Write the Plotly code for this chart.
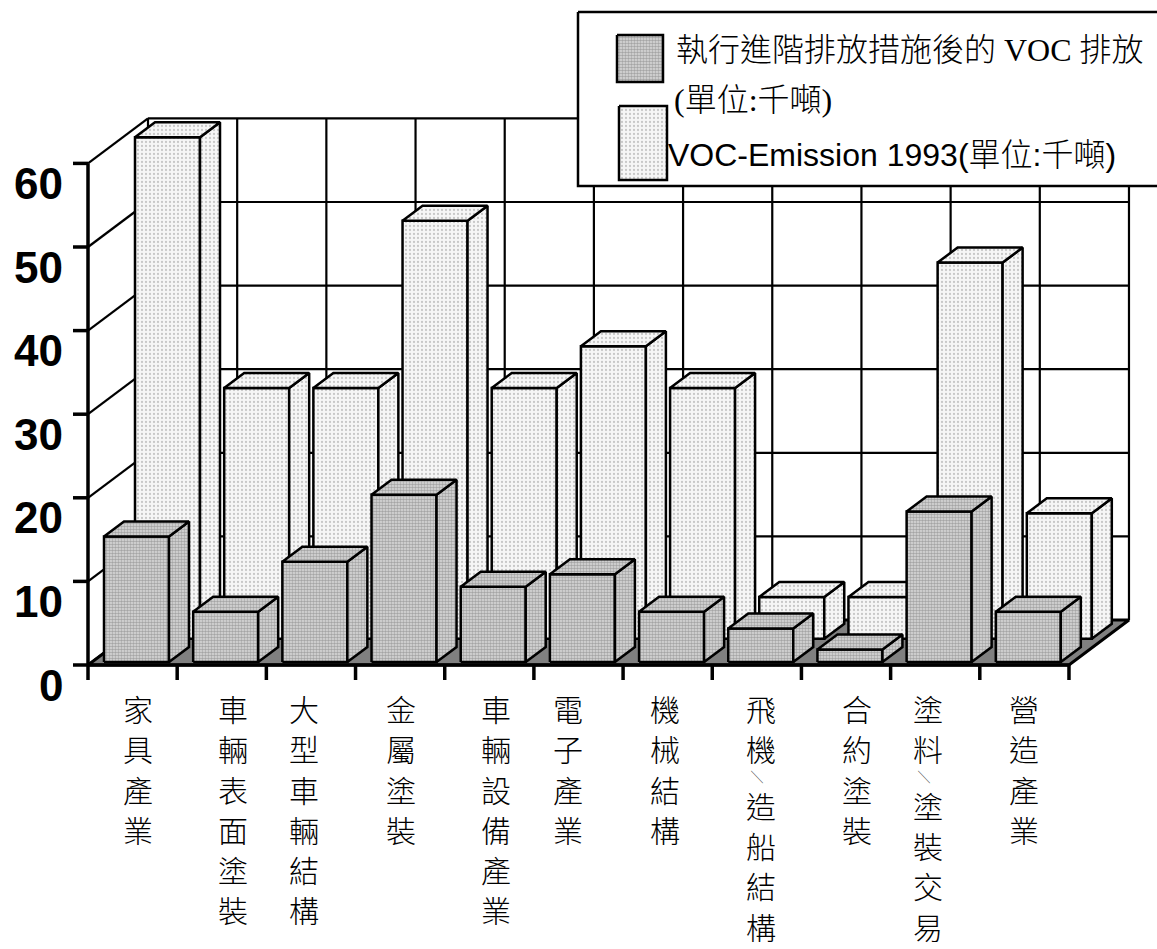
import plotly.graph_objects as go

# ---------------- data ----------------
categories = ["家具產業", "車輛表面塗裝", "大型車輛結構", "金屬塗裝", "車輛設備產業", "電子產業",
              "機械結構", "飛機/造船結構", "合約塗裝", "塗料/塗裝交易", "營造產業"]
after_measures = [15, 6, 12, 20, 9, 10.5, 6, 4, 1.5, 18, 6]
emission_1993 = [60, 30, 30, 50, 30, 35, 30, 5, 5, 45, 15]
value_ticks = [0, 10, 20, 30, 40, 50, 60]
series_names = ["執行進階排放措施後的 VOC 排放", "VOC-Emission 1993(單位:千噸)"]
series_name_extra = "(單位:千噸)"

# ---------------- oblique projection ----------------
W, H = 1157, 949
ORIGIN_X, ORIGIN_Y = 88, 665      # front-left corner of the floor, in pixels
CAT_PX = 89.18                    # pixels per category slot
VAL_PX = 8.36                     # pixels per value unit
DEPTH_PX = (60, 45)               # full depth offset (right, up) in pixels

DX = DEPTH_PX[0] / CAT_PX
DY = DEPTH_PX[1] / VAL_PX
N = len(categories)
VMAX = value_ticks[-1]


def proj(c, d, v):
    """category position c, depth fraction d (0 front .. 1 back), value v -> axis coords"""
    return c + d * DX, v + d * DY


def px_to_data(px, py):
    return (px - ORIGIN_X) / CAT_PX, (ORIGIN_Y - py) / VAL_PX


x_range = [-ORIGIN_X / CAT_PX, (W - ORIGIN_X) / CAT_PX]
y_range = [-(H - ORIGIN_Y) / VAL_PX, ORIGIN_Y / VAL_PX]

fig = go.Figure()


def add_lines(segments, width, color="black"):
    xs, ys = [], []
    for (a, b) in segments:
        xs += [a[0], b[0], None]
        ys += [a[1], b[1], None]
    fig.add_trace(go.Scatter(x=xs, y=ys, mode="lines", line=dict(color=color, width=width),
                             hoverinfo="skip", showlegend=False))


def add_poly(points, fill=None, pattern=None, width=2.5):
    xs = [p[0] for p in points] + [points[0][0]]
    ys = [p[1] for p in points] + [points[0][1]]
    kw = dict(x=xs, y=ys, mode="lines", fill="toself", line=dict(color="black", width=width),
              hoverinfo="skip", showlegend=False)
    if pattern is not None:
        kw["fillpattern"] = pattern
        kw["fillcolor"] = pattern["bgcolor"]
    else:
        kw["fillcolor"] = fill
    fig.add_trace(go.Scatter(**kw))


def add_px_rect(px0, py0, px1, py1, fill=None, pattern=None, width=2.5):
    a = px_to_data(px0, py0)
    b = px_to_data(px1, py1)
    add_poly([(a[0], a[1]), (b[0], a[1]), (b[0], b[1]), (a[0], b[1])],
             fill=fill, pattern=pattern, width=width)


# ---------------- walls ----------------
grid = []
for v in value_ticks[1:]:
    grid.append((proj(0, 1, v), proj(N, 1, v)))      # back wall horizontals
for c in range(N + 1):
    grid.append((proj(c, 1, 0), proj(c, 1, VMAX)))  # back wall verticals
for v in value_ticks:
    grid.append((proj(0, 0, v), proj(0, 1, v)))      # left wall diagonals
add_lines(grid, 2.2)

# floor
add_poly([proj(0, 0, 0), proj(N, 0, 0), proj(N, 1, 0), proj(0, 1, 0)], fill="#808080", width=3)

# ---------------- bars ----------------
BAR_OFFSET = 12 / CAT_PX
BAR_WIDTH = 65 / CAT_PX

front_style = dict(shape=".", fgcolor="#6e6e6e", bgcolor="#dcdcdc", size=3, solidity=0.55)
back_style = dict(shape=".", fgcolor="#9a9a9a", bgcolor="#f6f6f6", size=4, solidity=0.25)

rows = [
    (emission_1993, 35 / 60, 55 / 60, back_style),
    (after_measures, 4 / 60, 24 / 60, front_style),
]

for values, d0, d1, style in rows:
    for i, v in enumerate(values):
        x0 = i + BAR_OFFSET
        x1 = x0 + BAR_WIDTH
        add_poly([proj(x0, d0, 0), proj(x1, d0, 0), proj(x1, d0, v), proj(x0, d0, v)], pattern=style)
        add_poly([proj(x1, d0, 0), proj(x1, d1, 0), proj(x1, d1, v), proj(x1, d0, v)], pattern=style)
        add_poly([proj(x0, d0, v), proj(x1, d0, v), proj(x1, d1, v), proj(x0, d1, v)], pattern=style)

# ---------------- front axes ----------------
tick_len_x = 15 / CAT_PX
tick_len_y = 15 / VAL_PX
axes = [(proj(0, 0, 0), proj(N, 0, 0)), (proj(0, 0, 0), proj(0, 0, VMAX))]
axes += [(proj(c, 0, 0), proj(c, 0, -tick_len_y)) for c in range(N + 1)]
axes += [(proj(0, 0, v), proj(-tick_len_x, 0, v)) for v in value_ticks]
add_lines(axes, 3.5)

annotations = []
for v in value_ticks:
    annotations.append(dict(x=65 / W, xref="paper", y=v, yref="y", yshift=-20, text=str(v),
                            showarrow=False, xanchor="right", yanchor="middle",
                            font=dict(family="Liberation Sans, Arial", size=44, color="black",
                                      weight="bold")))

# vertical category labels, one character per line; the slash is set as a short rotated stroke
label_shift = [5, 11, -7, 1, 7, -10, -3, 4, 11, -7, 0]
LABEL_TOP, LABEL_STEP = 708, 40.3
SLASH_ROW = 0.4
cjk_font = dict(family="Noto Sans CJK TC", size=30, color="black", weight=300)
for i, name in enumerate(categories):
    cx = proj(i + 0.5, 0, 0)[0]
    cursor = LABEL_TOP - LABEL_STEP / 2
    for ch in name:
        rows_used = SLASH_ROW if ch == "/" else 1.0
        cy = cursor + rows_used * LABEL_STEP / 2
        cursor += rows_used * LABEL_STEP
        if ch == "/":
            annotations.append(dict(x=cx, xref="x", y=1 - cy / H, yref="paper",
                                    xshift=label_shift[i] - 4, text="╲", showarrow=False,
                                    xanchor="center", yanchor="middle", borderpad=0,
                                    font=dict(family="Noto Sans CJK TC", size=12, color="black")))
        else:
            annotations.append(dict(x=cx, xref="x", y=1 - cy / H, yref="paper",
                                    xshift=label_shift[i], text=ch, showarrow=False,
                                    xanchor="center", yanchor="middle", borderpad=0,
                                    font=cjk_font))

# ---------------- legend ----------------
add_px_rect(578, 12, 1180, 186, fill="white", width=2.5)
add_px_rect(617, 35, 663, 82, pattern=front_style)
add_px_rect(619, 106, 667, 180, pattern=back_style)

annotations += [
    dict(x=674 / W, xref="paper", y=1 - 50 / H, yref="paper", text=series_names[0], showarrow=False,
         xanchor="left", yanchor="middle",
         font=dict(family="Liberation Serif, Noto Sans CJK TC", size=32, color="black", weight=300)),
    dict(x=672 / W, xref="paper", y=1 - 100 / H, yref="paper", text=series_name_extra, showarrow=False,
         xanchor="left", yanchor="middle",
         font=dict(family="Liberation Serif, Noto Sans CJK TC", size=32, color="black", weight=300)),
    dict(x=666 / W, xref="paper", y=1 - 155 / H, yref="paper", text=series_names[1], showarrow=False,
         xanchor="left", yanchor="middle",
         font=dict(family="Liberation Sans, Noto Sans CJK TC", size=32, color="black", weight=300)),
]

fig.update_layout(
    width=W, height=H, autosize=False,
    margin=dict(l=0, r=0, t=0, b=0),
    paper_bgcolor="white", plot_bgcolor="white",
    xaxis=dict(range=x_range, visible=False, fixedrange=True),
    yaxis=dict(range=y_range, visible=False, fixedrange=True),
    showlegend=False,
    annotations=annotations,
)

fig.write_html("out.html")
